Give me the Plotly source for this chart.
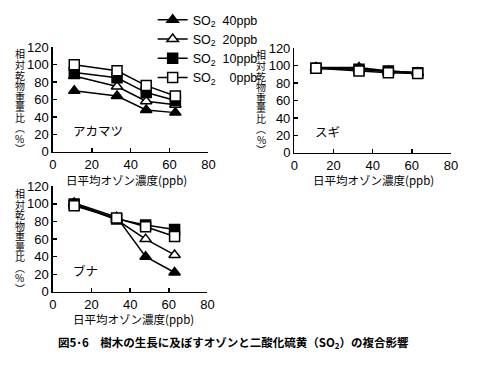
import plotly.graph_objects as go

ozone = [11, 33, 48, 63]
so2_labels = ["SO<sub>2</sub>  40ppb", "SO<sub>2</sub>  20ppb", "SO<sub>2</sub>  10ppb", "SO<sub>2</sub>    0ppb"]

# アカマツ
akamatsu_40 = [70, 64, 48, 45]
akamatsu_20 = [87, 75, 58, 54]
akamatsu_10 = [91, 85, 68, 59]
akamatsu_0 = [100, 93, 76, 64]
# スギ
sugi_40 = [98, 98, 94, 92]
sugi_20 = [97, 96, 93, 92]
sugi_10 = [97, 96, 94, 92]
sugi_0 = [97, 94, 92, 91]
# ブナ
buna_40 = [101, 85, 40, 22]
buna_20 = [100, 82, 60, 42]
buna_10 = [100, 83, 76, 71]
buna_0 = [98, 84, 74, 63]

species = ["アカマツ", "スギ", "ブナ"]
xtitle = "日平均オゾン濃度(ppb)"
ytitle = "相対乾物重量比︵%︶"
caption = "図5･6　樹木の生長に及ぼすオゾンと二酸化硫黄（SO<sub>2</sub>）の複合影響"

symbols = ["triangle-up", "triangle-up", "square", "square"]
fills = ["black", "white", "black", "white"]

panels = [
    (akamatsu_40, akamatsu_20, akamatsu_10, akamatsu_0),
    (sugi_40, sugi_20, sugi_10, sugi_0),
    (buna_40, buna_20, buna_10, buna_0),
]

fig = go.Figure()
for pi, series in enumerate(panels):
    ax = "" if pi == 0 else str(pi + 1)
    for si, ys in enumerate(series):
        fig.add_trace(go.Scatter(
            x=ozone, y=ys, mode="lines+markers",
            name=so2_labels[si], showlegend=(pi == 0),
            xaxis="x" + ax, yaxis="y" + ax,
            line=dict(color="black", width=1.5),
            marker=dict(symbol=symbols[si], size=10, color=fills[si],
                        line=dict(color="black", width=1.5)),
        ))

tickfont = dict(family="Liberation Sans, Arial", size=13, color="black")
common_x = dict(range=[0, 80], tickvals=[0, 20, 40, 60, 80], ticks="inside", ticklen=4,
                showline=True, linecolor="black", linewidth=1.5, tickcolor="black", tickwidth=1.5,
                showgrid=False, zeroline=False, tickfont=tickfont, fixedrange=True)
common_y = dict(range=[0, 120], tickvals=[0, 20, 40, 60, 80, 100, 120], ticks="inside", ticklen=4,
                showline=True, linecolor="black", linewidth=1.5, tickcolor="black", tickwidth=1.5,
                showgrid=False, zeroline=False, tickfont=tickfont, fixedrange=True)

W, H = 500, 367
def px(v): return v / W
def py(v): return 1 - v / H

doms = [
    ((50, 209), (151, 42)),
    ((297, 457), (152, 43)),
    ((50, 208), (297, 187)),
]
xtitle_pos = [(125, 180), (378, 180), (132, 325)]

layout = dict(width=W, height=H, margin=dict(l=0, r=0, t=0, b=0),
              plot_bgcolor="white", paper_bgcolor="white", showlegend=True,
              legend=dict(x=px(152), y=py(-2), xanchor="left", yanchor="top",
                          font=dict(family="Liberation Sans, Arial", size=12.5, color="black"),
                          bgcolor="rgba(0,0,0,0)", itemwidth=30, tracegroupgap=0))
annotations = []
for i, ((x0, x1), (yb, yt)) in enumerate(doms):
    ax = "" if i == 0 else str(i + 1)
    xa = dict(common_x, domain=[px(x0), px(x1)], anchor="y" + ax)
    ya = dict(common_y, domain=[py(yb), py(yt)], anchor="x" + ax)
    layout["xaxis" + ax] = xa
    layout["yaxis" + ax] = ya
    # x title
    tx, ty = xtitle_pos[i]
    annotations.append(dict(text=xtitle, xref="paper", yref="paper", x=px(tx), y=py(ty),
                            showarrow=False, xanchor="center", yanchor="middle",
                            font=dict(family="Noto Sans CJK JP", size=11.5, color="black")))
    # y title (vertical stacked, one character per annotation)
    chars = list(ytitle)
    n = len(chars)
    step = 11
    ymid = (yb + yt) / 2 + 2
    for k, ch in enumerate(chars):
        annotations.append(dict(text=ch, xref="paper", yref="paper",
                                x=px(x0 - 34), y=py(ymid + (k - (n - 1) / 2) * step),
                                showarrow=False, xanchor="center", yanchor="middle",
                                borderpad=0,
                                font=dict(family="Noto Sans CJK JP", size=10, color="black")))
    # species label
    annotations.append(dict(text=species[i], xref="x" + ax, yref="y" + ax, x=9.5, y=24,
                            xanchor="left", yanchor="middle", showarrow=False,
                            font=dict(family="Noto Sans CJK JP", size=12.5, color="black")))

annotations.append(dict(text="<b>" + caption + "</b>", xref="paper", yref="paper", x=px(235), y=py(350),
                        showarrow=False, xanchor="center", yanchor="middle",
                        font=dict(family="Noto Sans CJK JP", size=11.5, color="black")))
layout["annotations"] = annotations
fig.update_layout(**layout)
fig.write_html("out.html", config={"displayModeBar": False, "staticPlot": True})

# remove the browser's default body margin so the figure sits at the page origin
with open("out.html", "r", encoding="utf-8") as f:
    html = f.read()
html = html.replace("<head>", "<head><style>html,body{margin:0;padding:0;overflow:hidden;}</style>", 1)
with open("out.html", "w", encoding="utf-8") as f:
    f.write(html)
